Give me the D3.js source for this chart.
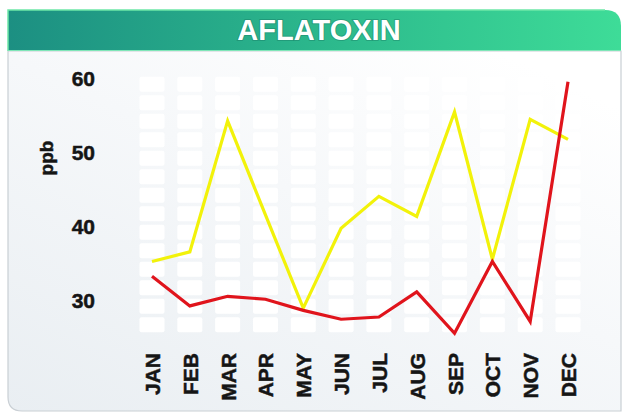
<!DOCTYPE html>
<html>
<head>
<meta charset="utf-8">
<script src="https://cdn.jsdelivr.net/npm/d3@7"></script>
<style>
  body { margin: 0; background: #fff; }
  svg { display: block; font-family: "Liberation Sans", Arial, sans-serif; }
</style>
</head>
<body>
<div id="chart"></div>
<script>
var months = ["JAN", "FEB", "MAR", "APR", "MAY", "JUN", "JUL", "AUG", "SEP", "OCT", "NOV", "DEC"]
var yellowValues = [35.2, 36.5, 54.2, 41.5, 28.9, 39.7, 44.0, 41.3, 55.4, 35.5, 54.4, 51.7]
var redValues = [33.2, 29.2, 30.5, 30.1, 28.6, 27.4, 27.7, 31.1, 25.5, 35.2, 27.1, 59.5]
var yTicks = [30, 40, 50, 60]

var W = 623, H = 418

var svg = d3.select("#chart").append("svg").attr("width", W).attr("height", H)
var defs = svg.append("defs")

var bg = defs.append("linearGradient").attr("id", "bodyGrad")
  .attr("x1", "0%").attr("y1", "100%").attr("x2", "80%").attr("y2", "0%")
bg.append("stop").attr("offset", "0%").attr("stop-color", "#e9eef2")
bg.append("stop").attr("offset", "60%").attr("stop-color", "#f6f8fa")
bg.append("stop").attr("offset", "100%").attr("stop-color", "#ffffff")

var tg = defs.append("linearGradient").attr("id", "titleGrad")
  .attr("x1", "0%").attr("y1", "0%").attr("x2", "100%").attr("y2", "0%")
tg.append("stop").attr("offset", "0%").attr("stop-color", "#1c8f82")
tg.append("stop").attr("offset", "55%").attr("stop-color", "#2dbb8d")
tg.append("stop").attr("offset", "100%").attr("stop-color", "#3edc98")

// card body
svg.append("path")
  .attr("d", "M8,51 L8,397 Q8,411 22,411 L621,411 L621,51 Z")
  .attr("fill", "url(#bodyGrad)")
  .attr("stroke", "#c9cfd4").attr("stroke-width", 1.2)

// title bar
svg.append("path")
  .attr("d", "M8,10 L605,10 Q621,10 621,26 L621,51 L8,51 Z")
  .attr("fill", "url(#titleGrad)")
svg.append("path")
  .attr("d", "M8,51 L8,10 L605,10")
  .attr("fill", "none").attr("stroke", "#6ee8a8").attr("stroke-width", 1.5)
svg.append("line").attr("x1", 8).attr("x2", 621).attr("y1", 50.5).attr("y2", 50.5)
  .attr("stroke", "#7fe6b8").attr("stroke-width", 1.2)

svg.append("text")
  .attr("x", 319).attr("y", 40)
  .attr("text-anchor", "middle")
  .attr("fill", "#fff")
  .style("font-size", "29px").style("font-weight", "bold")
  .style("paint-order", "stroke").attr("stroke", "rgba(20,110,90,0.35)").attr("stroke-width", 2)
  .text("AFLATOXIN")

var x = d3.scalePoint().domain(months).range([152, 568])
var y = d3.scaleLinear().domain([30, 60]).range([300, 78])

// background boxes
var rows = d3.range(0, 14)
var boxes = svg.append("g")
months.forEach(function (m) {
  boxes.selectAll(null)
    .data(rows)
    .enter()
    .append("rect")
    .attr("x", x(m) - 12.5)
    .attr("width", 25)
    .attr("y", function (k) { return y(60.4 - 2.5 * k) + 1.8 })
    .attr("height", function (k) { return y(60.4 - 2.5 * (k + 1)) - y(60.4 - 2.5 * k) - 3.6 })
    .attr("rx", 2)
    .attr("fill", "#ffffff")
})

// y axis labels
svg.append("g")
  .selectAll("text")
  .data(yTicks)
  .enter()
  .append("text")
  .attr("x", 95)
  .attr("y", function (d) { return y(d) })
  .attr("dy", "0.36em")
  .attr("text-anchor", "end")
  .attr("fill", "#151515")
  .attr("stroke", "#151515").attr("stroke-width", 0.5)
  .style("font-size", "21px").style("font-weight", "bold")
  .text(function (d) { return d })

svg.append("text")
  .attr("transform", "translate(53,158) rotate(-90)")
  .attr("text-anchor", "middle")
  .attr("fill", "#151515")
  .attr("stroke", "#151515").attr("stroke-width", 0.5)
  .style("font-size", "19px").style("font-weight", "bold")
  .text("ppb")

// month labels
svg.append("g")
  .selectAll("text")
  .data(months)
  .enter()
  .append("text")
  .attr("transform", function (d) { return "translate(" + (x(d) + 8) + ",353) rotate(-90)" })
  .attr("text-anchor", "end")
  .attr("fill", "#151515")
  .attr("stroke", "#151515").attr("stroke-width", 0.5)
  .style("font-size", "21px").style("font-weight", "bold")
  .text(function (d) { return d })

var line = d3.line()
  .x(function (d, i) { return x(months[i]) })
  .y(function (d) { return y(d) })

svg.append("path")
  .datum(yellowValues)
  .attr("d", line)
  .attr("fill", "none")
  .attr("stroke", "#f2f20a")
  .attr("stroke-width", 3.2)

svg.append("path")
  .datum(redValues)
  .attr("d", line)
  .attr("fill", "none")
  .attr("stroke", "#e0141c")
  .attr("stroke-width", 3.2)
</script>
</body>
</html>
